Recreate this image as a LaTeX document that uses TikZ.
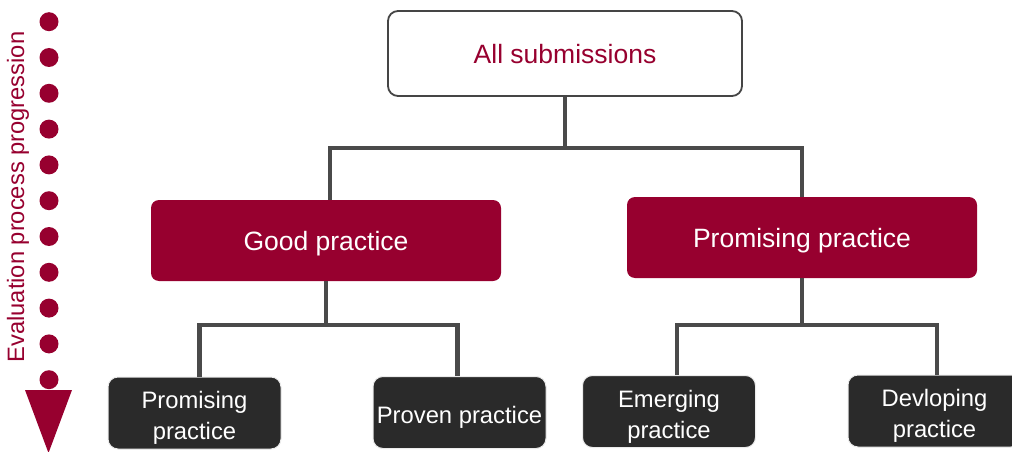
\documentclass[tikz,border=0pt]{standalone}
\usepackage{fontspec}
\setmainfont{Liberation Sans}
\definecolor{crim}{HTML}{97002F}
\definecolor{darkbox}{HTML}{2A2A2A}
\definecolor{conn}{HTML}{4A4A4A}
\definecolor{topframe}{HTML}{454545}
\begin{document}
\begin{tikzpicture}[x=1pt,y=-1pt,
  topbox/.style={draw=topframe,line width=1.8pt,fill=white,rounded corners=10pt,
    minimum width=354pt,minimum height=85pt,inner sep=0pt,
    label={[text=crim,yshift=-1pt,font=\fontsize{26.5pt}{32pt}\selectfont]center:#1}},
  midbox/.style={fill=crim,rounded corners=8pt,minimum width=350pt,minimum height=81pt,
    inner sep=0pt,
    label={[text=white,yshift=-3.5pt,font=\fontsize{26.5pt}{32pt}\selectfont]center:#1}},
  lowbox/.style={fill=darkbox,draw=black!8,line width=1pt,rounded corners=10pt,
    minimum width=173pt,minimum height=72pt,inner sep=0pt,
    label={[text=white,align=center,yshift=-5pt,font=\fontsize{23.8pt}{31pt}\selectfont]center:#1}},
  link/.style={draw=conn,line width=4.5pt},
  dot/.style={circle,fill=crim,minimum size=19pt,inner sep=0pt}]
\useasboundingbox (0,0) rectangle (1012,452);
% left progression
\foreach \i in {0,...,10}{
  \node[dot] (d\i) at (49,{21.7+\i*35.8}) {};
}
\fill[crim] (25,390) -- (72,390) -- (48.5,453) -- cycle;
\node[rotate=90,text=crim,font=\fontsize{23.7pt}{28pt}\selectfont,inner sep=0pt] (lbl) at (18,197) {Evaluation process progression};
% nodes
\node[topbox={All submissions}] (all) at (565,53.5) {};
\node[midbox={Good practice}] (good) at (326,240.5) {};
\node[midbox={Promising practice}] (prom) at (802,237.5) {};
\node[lowbox={Promising\\practice}] (b1) at (194.5,413) {};
\node[lowbox={Proven practice}] (b2) at (459.5,412.5) {};
\node[lowbox={Emerging\\practice}] (b3) at (669,411.5) {};
\node[lowbox={Devloping\\practice}] (b4) at (934.5,411) {};
% connectors
\coordinate (j0) at (565,148);
\coordinate (j1) at (326,325);
\coordinate (j2) at (802,325);
\draw[link] (all.south) -- (j0);
\draw[link] (j0) -| ([xshift=4pt]good.north);
\draw[link] (j0) -| (prom.north);
\draw[link] (good.south) -- (j1);
\draw[link] (j1) -| ([xshift=5pt]b1.north);
\draw[link] (j1) -| ([xshift=-2pt]b2.north);
\draw[link] (prom.south) -- (j2);
\draw[link] (j2) -| ([xshift=8pt]b3.north);
\draw[link] (j2) -| ([xshift=2.5pt]b4.north);
\end{tikzpicture}
\end{document}
